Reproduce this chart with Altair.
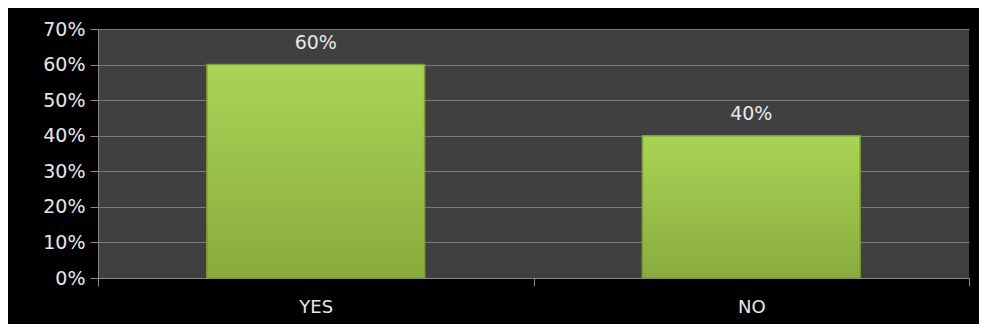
import altair as alt
import pandas as pd

categories = ["YES", "NO"]
values = [0.60, 0.40]
labels = ["60%", "40%"]

df = pd.DataFrame({"answer": categories, "share": values, "label": labels})

FONT = "DejaVu Sans"

x = alt.X("answer:N", sort=categories, title=None,
          scale=alt.Scale(paddingInner=0, paddingOuter=0),
          axis=alt.Axis(labelAngle=0, labelColor="#e8e8e8", labelFontSize=18,
                        labelFont=FONT, labelPadding=12, tickBand="extent",
                        tickColor="#8a8a8a", tickSize=8, domainColor="#8a8a8a",
                        grid=False))
y = alt.Y("share:Q", title=None,
          scale=alt.Scale(domain=[0, 0.7]),
          axis=alt.Axis(format=".0%", values=[0, 0.1, 0.2, 0.3, 0.4, 0.5, 0.6, 0.7],
                        labelColor="#e8e8e8", labelFontSize=19, labelFont=FONT,
                        labelPadding=5, tickColor="#8a8a8a", tickSize=8,
                        domainColor="#8a8a8a", gridColor="#7a7a7a", gridWidth=1.2))

green = {"gradient": "linear", "x1": 0, "y1": 0, "x2": 0, "y2": 1,
         "stops": [{"offset": 0, "color": "#a9d455"},
                   {"offset": 1, "color": "#8aab3e"}]}

bars = alt.Chart(df).mark_bar(color=green, stroke="#7f9c38", strokeWidth=1.5,
                              width=alt.RelativeBandSize(0.5)).encode(x=x, y=y)
text = alt.Chart(df).mark_text(dy=-12, baseline="bottom", color="#e8e8e8",
                               fontSize=19, font=FONT).encode(x=x, y=y, text="label:N")

chart = (bars + text).properties(
    width=871, height=249,
    autosize=alt.AutoSizeParams(type="none"),
    padding={"left": 90, "top": 21, "right": 10, "bottom": 46},
    background="black",
).configure_view(fill="#404040", stroke=None)

chart.save("out.html", embed_options={"renderer": "svg", "actions": False})
